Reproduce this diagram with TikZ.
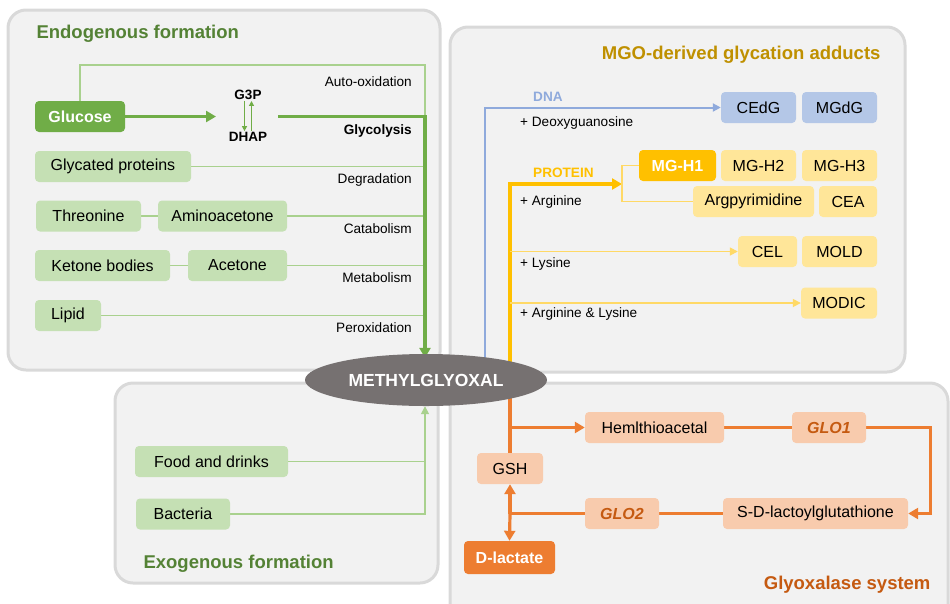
\documentclass[tikz,border=0pt]{standalone}
\usepackage{fontspec}
\setmainfont{Liberation Sans}
\usepackage{tikz}
\usetikzlibrary{shapes.geometric, arrows, arrows.meta}
\definecolor{panelfill}{HTML}{F2F2F2}
\definecolor{paneldraw}{HTML}{D9D9D9}
\definecolor{gdark}{HTML}{70AD47}
\definecolor{gtitle}{HTML}{548235}
\definecolor{gbox}{HTML}{C5E0B4}
\definecolor{gline}{HTML}{A9D18E}
\definecolor{bbox}{HTML}{B4C7E7}
\definecolor{bline}{HTML}{8FAADC}
\definecolor{ydark}{HTML}{FFC000}
\definecolor{ybox}{HTML}{FFE699}
\definecolor{yline}{HTML}{FFD966}
\definecolor{ytitle}{HTML}{BF9000}
\definecolor{odark}{HTML}{ED7D31}
\definecolor{obox}{HTML}{F8CBAD}
\definecolor{otitle}{HTML}{C55A11}
\definecolor{mgogray}{HTML}{767171}
\pgfdeclarelayer{panel}
\pgfdeclarelayer{wire}
\pgfsetlayers{panel,wire,main}
\newcommand{\boxfont}{\fontsize{16}{18}\selectfont}
\newcommand{\smallfont}{\fontsize{13.6}{15}\selectfont}
\newcommand{\titlefont}{\fontsize{18.5}{21}\selectfont\bfseries}
\tikzstyle{panelbox} = [draw=paneldraw, fill=panelfill, line width=3pt, rounded corners=18pt]
\tikzstyle{item} = [rectangle, rounded corners=4pt, minimum height=31pt, inner sep=2pt, font=\boxfont, text=black]
\tikzstyle{greenbox} = [item, fill=gbox]
\tikzstyle{bluebox} = [item, fill=bbox]
\tikzstyle{yellowbox} = [item, fill=ybox]
\tikzstyle{orangebox} = [item, fill=obox]
\tikzstyle{enzyme} = [orangebox, font=\boxfont\bfseries\itshape, text=otitle]
\tikzstyle{label} = [font=\smallfont, inner sep=1pt]
\tikzstyle{fineline} = [line width=1.6pt]
\tikzstyle{boldline} = [line width=3.2pt]
\tikzstyle{arrow} = [-{Triangle[length=8pt, width=8pt]}]
\tikzstyle{bigarrow} = [-{Triangle[length=10pt, width=11pt]}]

\begin{document}
\begin{tikzpicture}[x=1pt, y=-1pt]
\useasboundingbox (0,0) rectangle (950,603);
% panels
\begin{pgfonlayer}{panel}
\draw[panelbox] (8,10) rectangle (440,370);
\draw[panelbox] (450,27) rectangle (905,372);
\draw[panelbox] (115,383) rectangle (438,583);
\draw[panelbox] (450,383) rectangle (948,625);
\end{pgfonlayer}

\node[anchor=west, font=\titlefont, text=gtitle] (endo) at (33,34) {Endogenous formation};
\node[anchor=east, font=\titlefont, text=ytitle] (adducts) at (884,55) {MGO-derived glycation adducts};
\node[anchor=west, font=\titlefont, text=gtitle] (exo) at (140,564) {Exogenous formation};
\node[anchor=east, font=\titlefont, text=otitle] (glyox) at (934,585) {Glyoxalase system};

\node[ellipse, fill=mgogray, minimum width=242, minimum height=52, text=white, font=\fontsize{17.5}{20}\selectfont\bfseries] (mgo) at (426,380) {METHYLGLYOXAL};

% endogenous formation
\node[item, fill=gdark, text=white, font=\boxfont\bfseries, minimum width=90] (glucose) at (80,116.5) {Glucose};
\node[font=\fontsize{13.5}{15}\selectfont\bfseries, inner sep=1pt] (g3p) at (248,95) {G3P};
\node[font=\fontsize{13.5}{15}\selectfont\bfseries, inner sep=1pt] (dhap) at (248,137) {DHAP};
\node[greenbox, minimum width=156] (glyprot) at (113,166.5) {Glycated proteins};
\node[greenbox, minimum width=105] (threonine) at (88.5,216) {Threonine};
\node[greenbox, minimum width=129] (aminoacetone) at (222.5,216) {Aminoacetone};
\node[greenbox, minimum width=135] (ketone) at (102.5,265.5) {Ketone bodies};
\node[greenbox, minimum width=99] (acetone) at (237.5,265.5) {Acetone};
\node[greenbox, minimum width=66] (lipid) at (68,315.5) {Lipid};

\node[label, anchor=east] (lauto) at (413,82) {Auto-oxidation};
\node[label, anchor=east, font=\smallfont\bfseries] (lglyco) at (413,131) {Glycolysis};
\node[label, anchor=east] (ldegr) at (413,180) {Degradation};
\node[label, anchor=east] (lcata) at (413,229) {Catabolism};
\node[label, anchor=east] (lmeta) at (413,278) {Metabolism};
\node[label, anchor=east] (lperox) at (413,328) {Peroxidation};

\coordinate (g3pin) at (216,116.5);
\coordinate (glyS) at (278,116.5);
\coordinate (join) at (425,116.5);

\begin{pgfonlayer}{wire}
\draw[gline, fineline] (glucose.north) |- (425,65) -- (join);
\draw[gline, fineline] (glyprot.east) -- (glyprot.east -| join);
\draw[gline, fineline] (threonine) -- (aminoacetone);
\draw[gline, fineline] (aminoacetone.east) -- (aminoacetone.east -| join);
\draw[gline, fineline] (ketone) -- (acetone);
\draw[gline, fineline] (acetone.east) -- (acetone.east -| join);
\draw[gline, fineline] (lipid.east) -- (lipid.east -| join);
\draw[gdark, boldline, bigarrow] (glucose.east) -- (g3pin);
\draw[gdark, boldline, bigarrow] (glyS) -- (join) -- ([yshift=-4]mgo.north -| join);
\end{pgfonlayer}
\draw[gdark, line width=1.2pt, -{Triangle[length=5pt, width=5pt]}] ([xshift=-3.5]g3p.south) -- ([xshift=-3.5]dhap.north);
\draw[gdark, line width=1.2pt, -{Triangle[length=5pt, width=5pt]}] ([xshift=3.5]dhap.north) -- ([xshift=3.5]g3p.south);

% exogenous formation
\node[greenbox, minimum width=153] (food) at (211.5,461.5) {Food and drinks};
\node[greenbox, minimum width=94] (bacteria) at (183,514) {Bacteria};
\begin{pgfonlayer}{wire}
\draw[gline, fineline] (food.east) -- (food.east -| join);
\draw[gline, fineline, arrow] (bacteria.east) -| (mgo.south -| join);
\end{pgfonlayer}

% glycation adducts
\node[label, anchor=west, font=\smallfont\bfseries, text=bline] (dna) at (532,97) {DNA};
\node[label, anchor=west] (ldeoxy) at (519,123) {+ Deoxyguanosine};
\node[label, anchor=west, font=\smallfont\bfseries, text=ydark] (protein) at (532,173) {PROTEIN};
\node[label, anchor=west] (larg) at (519,202) {+ Arginine};
\node[label, anchor=west] (llys) at (519,264) {+ Lysine};
\node[label, anchor=west] (lal) at (519,314) {+ Arginine \& Lysine};

\node[bluebox, minimum width=75] (cedg) at (758.5,107.5) {CEdG};
\node[bluebox, minimum width=75] (mgdg) at (839.5,107.5) {MGdG};
\node[item, fill=ydark, text=white, font=\boxfont\bfseries, minimum width=77] (mgh1) at (677.5,165.5) {MG-H1};
\node[yellowbox, minimum width=75] (mgh2) at (758.5,165.5) {MG-H2};
\node[yellowbox, minimum width=75] (mgh3) at (839.5,165.5) {MG-H3};
\node[yellowbox, minimum width=121] (argp) at (753.5,201.5) {Argpyrimidine};
\node[yellowbox, minimum width=58] (cea) at (848,201.5) {CEA};
\node[yellowbox, minimum width=59] (cel) at (767.5,251.5) {CEL};
\node[yellowbox, minimum width=75] (mold) at (839.5,251.5) {MOLD};
\node[yellowbox, minimum width=76] (modic) at (839,303) {MODIC};

\coordinate (dnaS) at (485,380);
\coordinate (protS) at (510,380);
\coordinate (brk) at (622,184);

\begin{pgfonlayer}{wire}
\draw[bline, line width=2pt, arrow] (dnaS) |- (cedg.west);
\draw[ydark, line width=3.8pt, bigarrow] (protS) |- (brk);
\draw[yline, fineline] (mgh1.west) -| (brk) |- (argp.west);
\draw[yline, fineline, arrow] (protS |- cel.west) -- (cel.west);
\draw[yline, fineline, arrow] (protS |- modic.west) -- (modic.west);
\end{pgfonlayer}

% glyoxalase system
\node[orangebox, minimum width=139] (hemi) at (654.5,427.5) {Hemlthioacetal};
\node[enzyme, minimum width=74] (glo1) at (829,427.5) {GLO1};
\node[orangebox, minimum width=185] (sdl) at (815.5,513.5) {S-D-lactoylglutathione};
\node[enzyme, minimum width=74] (glo2) at (622,513.5) {GLO2};
\node[orangebox, minimum width=66] (gsh) at (510,468.5) {GSH};
\node[item, fill=odark, text=white, font=\boxfont\bfseries, minimum width=91, minimum height=33] (dlac) at (509.5,557.5) {D-lactate};

\coordinate (gj) at (gsh.south |- glo2.west);

\begin{pgfonlayer}{wire}
\draw[odark, boldline] (protS) -- (gsh.north);
\draw[odark, boldline, bigarrow] (gsh.north |- hemi.west) -- (hemi.west);
\draw[odark, boldline] (hemi.east) -- (glo1.west);
\draw[odark, boldline, bigarrow] (glo1.east) -- ++(64,0) |- (sdl.east);
\draw[odark, boldline] (sdl.west) -- (glo2.east);
\draw[odark, boldline] (glo2.west) -- (gj);
\draw[odark, boldline, bigarrow] (gj) -- (gsh.south);
\draw[odark, boldline, bigarrow] (gj) -- (dlac.north);
\end{pgfonlayer}
\end{tikzpicture}
\end{document}
